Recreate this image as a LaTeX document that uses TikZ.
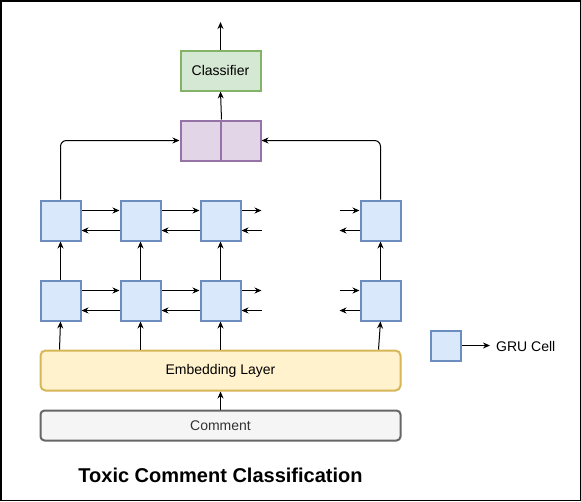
\documentclass[tikz,border=0pt]{standalone}
\usepackage{fontspec}
\setmainfont{Liberation Sans}
\usetikzlibrary{arrows.meta,calc}
\definecolor{cellfill}{HTML}{DAE8FC}
\definecolor{cellline}{HTML}{6C8EBF}
\definecolor{clsfill}{HTML}{D5E8D4}
\definecolor{clsline}{HTML}{82B366}
\definecolor{catfill}{HTML}{E1D5E7}
\definecolor{catline}{HTML}{9673A6}
\definecolor{embfill}{HTML}{FFF2CC}
\definecolor{embline}{HTML}{D6B656}
\definecolor{comfill}{HTML}{F5F5F5}
\definecolor{comline}{HTML}{666666}
\definecolor{comtext}{HTML}{333333}
\begin{document}
\begin{tikzpicture}[x=1pt,y=-1pt,
  every node/.style={font=\fontsize{14}{16}\selectfont},
  cell/.style={draw=cellline, fill=cellfill, line width=2pt, minimum size=40pt, inner sep=0pt},
  half/.style={draw=catline, fill=catfill, line width=2pt, minimum size=40pt, inner sep=0pt},
  arr/.style={-{Stealth[length=7pt,width=6pt]}, line width=1pt},
]
\useasboundingbox (0,0) rectangle (581,501);
\draw[line width=1.5pt] (0.75,0.75) rectangle (580.25,500.25);

% GRU cells
\foreach \i/\x in {1/60.5,2/140.5,3/220.5,4/380.5}{
  \node[cell] (a\i) at (\x,220.5) {};
  \node[cell] (b\i) at (\x,300.5) {};
}

% concat and classifier
\node[half] (catL) at (200.5,140.5) {};
\node[half] (catR) at (240.5,140.5) {};
\node[draw=clsline, fill=clsfill, line width=2pt, minimum width=80pt, minimum height=40pt, inner sep=0pt] (cls) at (220.5,70.5) {Classifier};
\coordinate (out) at (220.5,22);

% embedding and comment
\node[draw=embline, fill=embfill, line width=2pt, rounded corners=5pt, minimum width=360pt, minimum height=40pt, inner sep=0pt] (emb) at (220.5,370.5) {Embedding Layer};
\node[draw=comline, fill=comfill, text=comtext, line width=2pt, rounded corners=4pt, minimum width=360pt, minimum height=30pt, inner sep=0pt] (com) at (220.5,425.5) {Comment};

% legend
\node[cell, minimum size=30pt] (leg) at (445.5,345.5) {};
\node[anchor=west, inner sep=0pt] (legt) at (496,346) {GRU Cell};
\coordinate (legtip) at (490,345.5);
\draw[arr] (leg.east) -- (legtip);

% title
\node[font=\fontsize{20}{24}\selectfont\bfseries] (title) at (220.5,475) {Toxic Comment Classification};

% top connections
\draw[arr] (cls.north) -- (out);
\draw[arr] (catL.north east) -- (cls.south);
\draw[arr, rounded corners=6pt] (a1.north) |- (catL.west);
\draw[arr, rounded corners=6pt] (a4.north) |- (catR.east);

% vertical arrows
\foreach \i in {1,2,3,4}{
  \draw[arr] (b\i.north) -- (a\i.south);
}
\draw[arr] ($(emb.north -| b1)+(-1,0)$) -- (b1.south);
\draw[arr] (emb.north -| b2) -- (b2.south);
\draw[arr] (emb.north -| b3) -- (b3.south);
\draw[arr] ($(emb.north -| b4)+(-2,0)$) -- (b4.south);
\draw[arr] (com.north) -- (emb.south);

% horizontal arrows
\foreach \r in {a,b}{
  \foreach \p/\q in {1/2,2/3}{
    \draw[arr] ($(\r\p.east)+(0,-10)$) -- ($(\r\q.west)+(0,-10)$);
    \draw[arr] ($(\r\q.west)+(0,10)$) -- ($(\r\p.east)+(0,10)$);
  }
  \coordinate (\r o1) at ($(\r3.east)+(20,-10)$);
  \coordinate (\r o2) at ($(\r3.east)+(20,10)$);
  \draw[arr] ($(\r3.east)+(0,-10)$) -- (\r o1);
  \draw[arr] (\r o2) -- ($(\r3.east)+(0,10)$);
  \coordinate (\r i1) at ($(\r4.west)+(-20,-10)$);
  \coordinate (\r i2) at ($(\r4.west)+(-20,10)$);
  \draw[arr] (\r i1) -- ($(\r4.west)+(0,-10)$);
  \draw[arr] ($(\r4.west)+(0,10)$) -- (\r i2);
}
\end{tikzpicture}
\end{document}
